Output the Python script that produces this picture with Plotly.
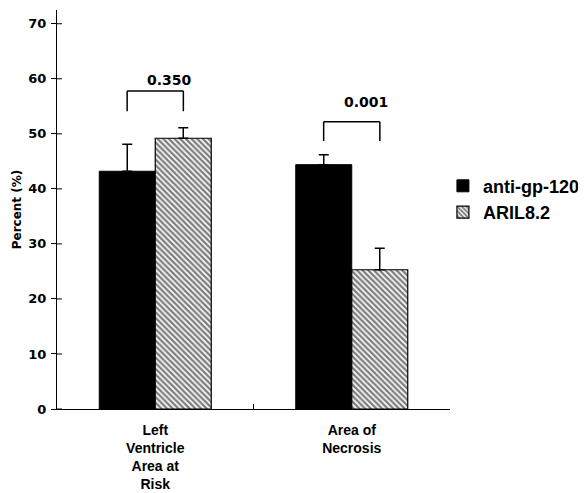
import plotly.graph_objects as go

categories = ["Left<br>Ventricle<br>Area at<br>Risk", "Area of<br>Necrosis"]
series_names = ["anti-gp-120", "ARIL8.2"]
anti_gp120 = [43.2, 44.4]
anti_gp120_err = [4.9, 1.8]
aril82 = [49.2, 25.3]
aril82_err = [1.9, 3.9]
p_values = ["0.350", "0.001"]
bracket_top = [57.8, 52.2]
bracket_bottom = [54.1, 48.7]
label_y = [59.8, 55.8]
y_ticks = [0, 10, 20, 30, 40, 50, 60, 70]

FONT = "Liberation Sans"
FONT2 = "DejaVu Sans"
xs = list(range(len(categories)))

fig = go.Figure()
fig.add_trace(go.Bar(
    x=xs, y=anti_gp120, name=series_names[0],
    marker=dict(color="black", line=dict(color="black", width=1)),
    error_y=dict(type="data", array=anti_gp120_err, arrayminus=[0]*len(xs),
                 symmetric=False, color="black", thickness=1.5, width=5),
))
fig.add_trace(go.Bar(
    x=xs, y=aril82, name=series_names[1],
    marker=dict(color="white", line=dict(color="black", width=1.2),
                pattern=dict(shape="\\", fgcolor="black", bgcolor="white",
                             size=4, solidity=0.6)),
    error_y=dict(type="data", array=aril82_err, arrayminus=[0]*len(xs),
                 symmetric=False, color="black", thickness=1.5, width=5),
))

off = 0.143
shapes = []
for i, x in enumerate(xs):
    for xx in (x - off, x + off):
        shapes.append(dict(type="line", xref="x", yref="y", x0=xx, x1=xx,
                           y0=bracket_bottom[i], y1=bracket_top[i],
                           line=dict(color="black", width=1.5)))
    shapes.append(dict(type="line", xref="x", yref="y", x0=x - off, x1=x + off,
                       y0=bracket_top[i], y1=bracket_top[i],
                       line=dict(color="black", width=1.5)))
for t in y_ticks:
    shapes.append(dict(type="line", xref="paper", yref="y", xsizemode="pixel",
                       xanchor=0, x0=0, x1=5, y0=t, y1=t,
                       line=dict(color="black", width=1)))
shapes.append(dict(type="line", xref="x", yref="y", ysizemode="pixel",
                   yanchor=0, x0=0.5, x1=0.5, y0=-5, y1=5,
                   line=dict(color="black", width=1)))

annotations = []
for i, x in enumerate(xs):
    annotations.append(dict(x=x, y=label_y[i], xref="x", yref="y",
                            text=p_values[i], showarrow=False, xshift=14,
                            font=dict(family=FONT2, size=14,
                                      color="black", weight="bold")))

fig.update_layout(
    width=578, height=485,
    margin=dict(l=49, r=136, t=2, b=84, autoexpand=False),
    paper_bgcolor="white", plot_bgcolor="white",
    barmode="group", bargap=0.43, bargroupgap=0,
    shapes=shapes, annotations=annotations,
    font=dict(family=FONT, color="black", weight="bold"),
    legend=dict(x=0.982, y=0.605, xanchor="left", yanchor="top",
                font=dict(family=FONT, size=18, color="black", weight="bold"),
                itemwidth=30, tracegroupgap=0, bgcolor="rgba(0,0,0,0)"),
    showlegend=True,
)
fig.update_xaxes(range=[-0.5, 1.5], tickvals=xs, ticktext=categories,
                 showline=True, linecolor="black", linewidth=1, ticks="",
                 showgrid=False, zeroline=False, ticklabelstandoff=8,
                 automargin=False,
                 tickfont=dict(family=FONT, size=14, color="black", weight="bold"))
fig.update_yaxes(range=[0, 72.5], tickvals=y_ticks, showline=True,
                 linecolor="black", linewidth=1, ticks="outside", ticklen=5,
                 tickcolor="black", showgrid=False, zeroline=False,
                 automargin=False, ticklabelstandoff=2,
                 tickfont=dict(family=FONT2, size=13, color="black", weight="bold"),
                 title=dict(text="Percent (%)", standoff=4,
                            font=dict(family=FONT2, size=12, color="black", weight="bold")))

fig.write_html("out.html")
